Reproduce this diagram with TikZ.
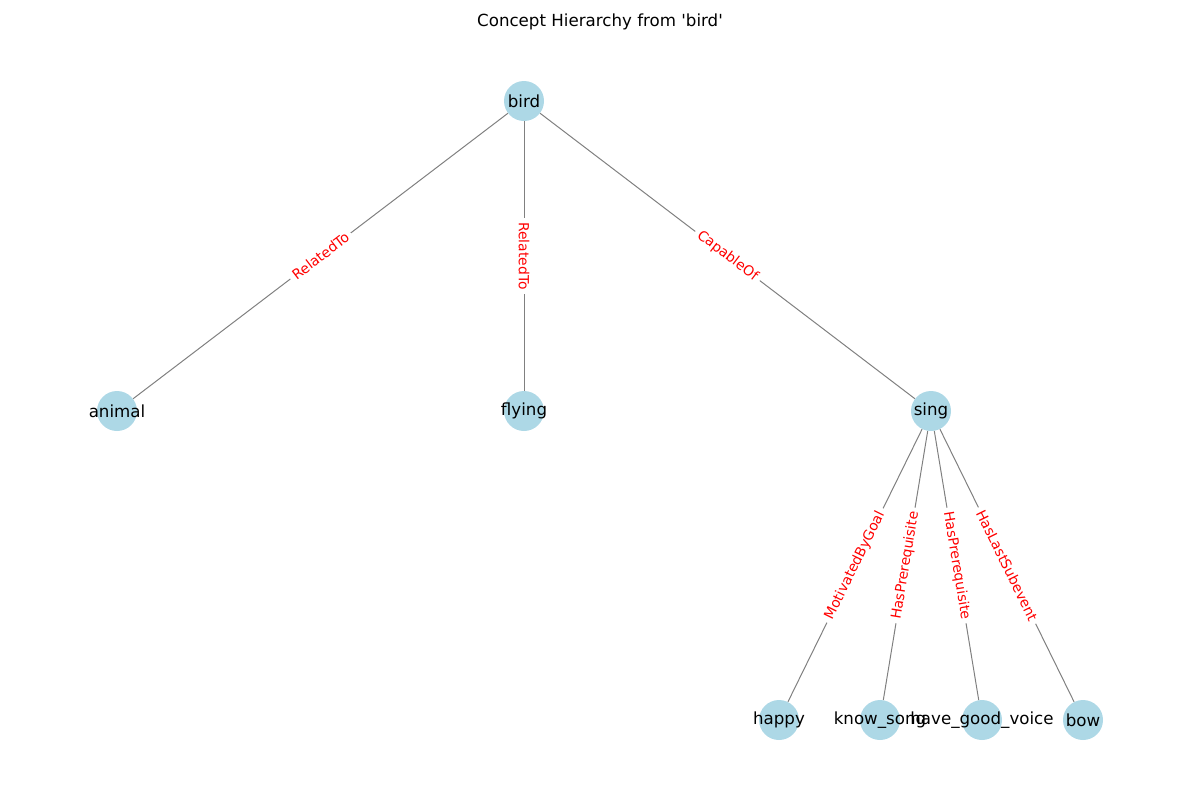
\documentclass[tikz,border=0pt]{standalone}
\usepackage{fontspec}
\setmainfont{DejaVu Sans}
\definecolor{nodeblue}{RGB}{173,216,230}
\begin{document}
\begin{tikzpicture}[x=0.72pt,y=-0.72pt,
  cnode/.style={circle,fill=nodeblue,minimum size=28.8pt,inner sep=0pt},
  nlabel/.style={font=\fontsize{12pt}{14pt}\selectfont,text=black},
  edge/.style={draw=gray,line width=0.72pt},
  elabel/.style={midway,fill=white,text=red,inner sep=3pt,font=\fontsize{10pt}{12pt}\selectfont}]
\useasboundingbox (0,0) rectangle (1200,800);
\node[font=\fontsize{12pt}{14pt}\selectfont] (title) at (600,22) {Concept Hierarchy from \textquotesingle bird\textquotesingle};
\node[cnode] (bird) at (524,101) {};
\node[cnode] (animal) at (117,411) {};
\node[cnode] (flying) at (524,411) {};
\node[cnode] (sing) at (931,411) {};
\node[cnode] (happy) at (779,720) {};
\node[cnode] (know) at (880,720) {};
\node[cnode] (have) at (982,720) {};
\node[cnode] (bow) at (1083,720) {};
\draw[edge] (bird) -- node[elabel,rotate=37.3] {RelatedTo} (animal);
\draw[edge] (bird) -- node[elabel,rotate=-90] {RelatedTo} (flying);
\draw[edge] (bird) -- node[elabel,rotate=-37.3] {CapableOf} (sing);
\draw[edge] (sing) -- node[elabel,rotate=63.8] {MotivatedByGoal} (happy);
\draw[edge] (sing) -- node[elabel,rotate=80.6] {HasPrerequisite} (know);
\draw[edge] (sing) -- node[elabel,rotate=-80.6] {HasPrerequisite} (have);
\draw[edge] (sing) -- node[elabel,rotate=-63.8] {HasLastSubevent} (bow);
\node[nlabel] (tbird) at (bird) {bird};
\node[nlabel] (tanimal) at (animal) {animal};
\node[nlabel] (tflying) at (flying) {flying};
\node[nlabel] (tsing) at (sing) {sing};
\node[nlabel] (thappy) at (happy) {happy};
\node[nlabel] (tknow) at (know) {know\_song};
\node[nlabel] (thave) at (have) {have\_good\_voice};
\node[nlabel] (tbow) at (bow) {bow};
\end{tikzpicture}
\end{document}
